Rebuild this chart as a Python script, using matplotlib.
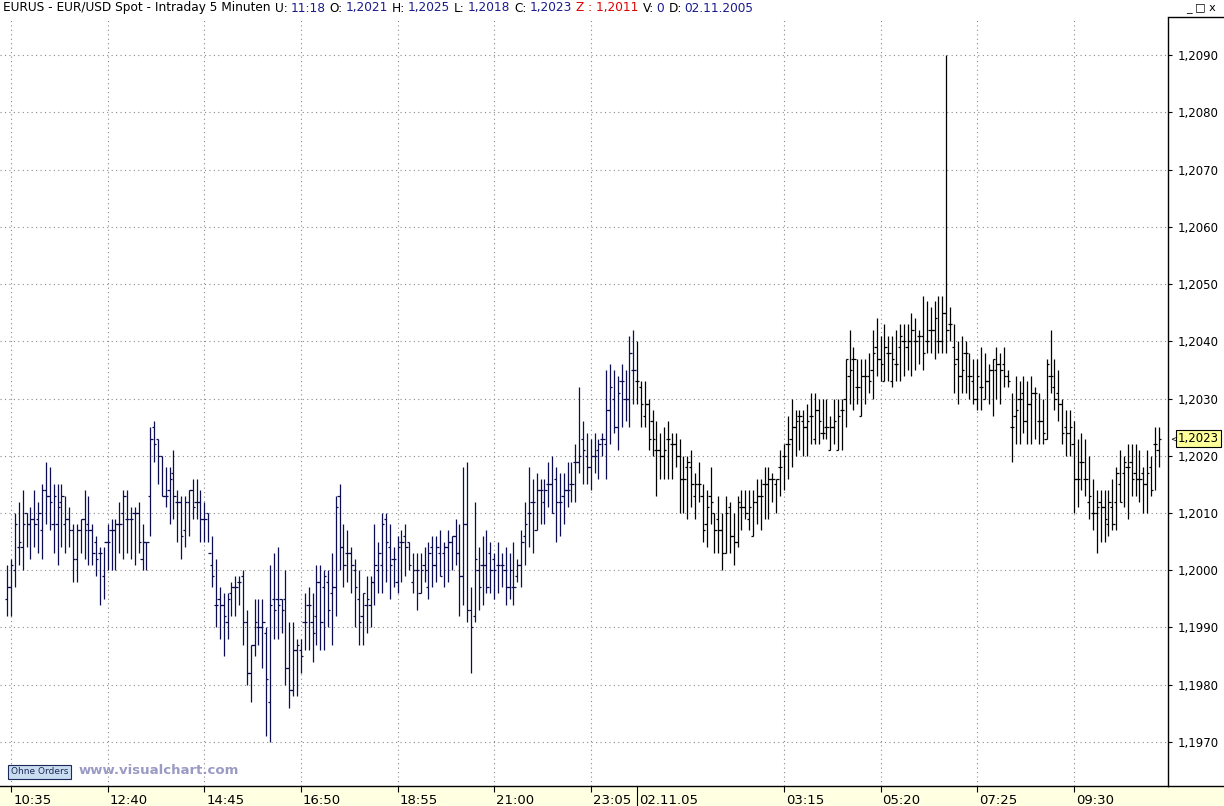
import numpy as np
import matplotlib
matplotlib.use('Agg')
import matplotlib.pyplot as plt
import matplotlib.transforms as mtransforms
from matplotlib.patches import Rectangle
from matplotlib.lines import Line2D

# EUR/USD 5-minute bars, 10:30 on 01.11.05 up to 11:20 on 02.11.05
opens = [
    1.1995, 1.1997, 1.2000, 1.2004, 1.2004, 1.2010, 1.2008, 1.2009, 1.2009, 1.2007,
    1.2014, 1.2013, 1.2008, 1.2008, 1.2012, 1.2008, 1.2009, 1.2007, 1.2002, 1.2007,
    1.2009, 1.2008, 1.2007, 1.2005, 1.2003, 1.1999, 1.2005, 1.2007, 1.2007, 1.2008,
    1.2010, 1.2009, 1.2009, 1.2010, 1.2010, 1.2002, 1.2005, 1.2013, 1.2025, 1.2023,
    1.2020, 1.2013, 1.2014, 1.2017, 1.2012, 1.2012, 1.2007, 1.2012, 1.2014, 1.2012,
    1.2012, 1.2009, 1.2010, 1.2001, 1.1994, 1.1995, 1.1994, 1.1991, 1.1996, 1.1997,
    1.1998, 1.1999, 1.1991, 1.1982, 1.1987, 1.1990, 1.1990, 1.1989, 1.1977, 1.1995,
    1.1995, 1.1995, 1.1995, 1.1983, 1.1979, 1.1986, 1.1986, 1.1991, 1.1994, 1.1991,
    1.1992, 1.1998, 1.1997, 1.1998, 1.1996, 1.1997, 1.2013, 1.2004, 1.2003, 1.2003,
    1.2000, 1.1995, 1.1992, 1.1994, 1.1994, 1.1998, 1.2000, 1.2001, 1.2009, 1.2004,
    1.2002, 1.1998, 1.2005, 1.2006, 1.2005, 1.1998, 1.2000, 1.1996, 1.2001, 1.1997,
    1.2004, 1.2001, 1.2003, 1.2003, 1.2004, 1.2005, 1.2006, 1.2003, 1.1999, 1.2008,
    1.1993, 1.1992, 1.2000, 1.2001, 1.2001, 1.2003, 1.2002, 1.2001, 1.2001, 1.2000,
    1.1997, 1.1997, 1.1999, 1.2001, 1.2006, 1.2010, 1.2012, 1.2007, 1.2014, 1.2012,
    1.2015, 1.2015, 1.2016, 1.2012, 1.2013, 1.2014, 1.2015, 1.2019, 1.2019, 1.2023,
    1.2020, 1.2018, 1.2020, 1.2021, 1.2023, 1.2022, 1.2028, 1.2030, 1.2025, 1.2033,
    1.2030, 1.2030, 1.2035, 1.2033, 1.2032, 1.2027, 1.2029, 1.2026, 1.2021, 1.2021,
    1.2020, 1.2023, 1.2022, 1.2022, 1.2020, 1.2016, 1.2018, 1.2018, 1.2013, 1.2015,
    1.2013, 1.2008, 1.2013, 1.2010, 1.2009, 1.2007, 1.2003, 1.2011, 1.2006, 1.2005,
    1.2011, 1.2011, 1.2009, 1.2006, 1.2012, 1.2013, 1.2015, 1.2015, 1.2016, 1.2015,
    1.2018, 1.2020, 1.2022, 1.2023, 1.2025, 1.2027, 1.2026, 1.2025, 1.2027, 1.2023,
    1.2028, 1.2024, 1.2025, 1.2021, 1.2025, 1.2021, 1.2028, 1.2030, 1.2034, 1.2037,
    1.2032, 1.2027, 1.2034, 1.2034, 1.2035, 1.2039, 1.2037, 1.2033, 1.2038, 1.2033,
    1.2036, 1.2039, 1.2040, 1.2039, 1.2040, 1.2040, 1.2041, 1.2041, 1.2040, 1.2042,
    1.2042, 1.2040, 1.2040, 1.2045, 1.2043, 1.2039, 1.2037, 1.2034, 1.2038, 1.2034,
    1.2033, 1.2030, 1.2032, 1.2030, 1.2033, 1.2035, 1.2035, 1.2036, 1.2036, 1.2034,
    1.2025, 1.2027, 1.2030, 1.2031, 1.2026, 1.2029, 1.2031, 1.2026, 1.2026, 1.2023,
    1.2034, 1.2032, 1.2031, 1.2029, 1.2025, 1.2024, 1.2022, 1.2016, 1.2019, 1.2016,
    1.2012, 1.2010, 1.2010, 1.2012, 1.2011, 1.2008, 1.2011, 1.2012, 1.2015, 1.2017,
    1.2018, 1.2019, 1.2017, 1.2016, 1.2017, 1.2015, 1.2018, 1.2022, 1.2021,
]
highs = [
    1.2001, 1.2002, 1.2010, 1.2012, 1.2014, 1.2010, 1.2011, 1.2014, 1.2012, 1.2015,
    1.2019, 1.2018, 1.2015, 1.2015, 1.2015, 1.2013, 1.2011, 1.2008, 1.2008, 1.2009,
    1.2014, 1.2013, 1.2008, 1.2006, 1.2004, 1.2004, 1.2008, 1.2009, 1.2009, 1.2012,
    1.2014, 1.2014, 1.2011, 1.2011, 1.2012, 1.2008, 1.2005, 1.2025, 1.2026, 1.2023,
    1.2020, 1.2018, 1.2018, 1.2021, 1.2014, 1.2013, 1.2013, 1.2014, 1.2016, 1.2016,
    1.2014, 1.2012, 1.2010, 1.2006, 1.2002, 1.1997, 1.1996, 1.1996, 1.1998, 1.1999,
    1.1999, 1.2000, 1.1993, 1.1987, 1.1995, 1.1995, 1.1995, 1.1990, 1.2001, 1.2003,
    1.2004, 1.1995, 1.2000, 1.1991, 1.1991, 1.1988, 1.1988, 1.1996, 1.1997, 1.1996,
    1.2001, 1.2001, 1.2000, 1.2000, 1.2003, 1.2013, 1.2015, 1.2008, 1.2007, 1.2004,
    1.2002, 1.2000, 1.1996, 1.1999, 1.1999, 1.2008, 1.2005, 1.2010, 1.2010, 1.2008,
    1.2004, 1.2006, 1.2007, 1.2008, 1.2005, 1.2003, 1.2003, 1.2003, 1.2004, 1.2005,
    1.2006, 1.2006, 1.2007, 1.2005, 1.2007, 1.2006, 1.2009, 1.2008, 1.2018, 1.2019,
    1.1997, 1.2012, 1.2004, 1.2006, 1.2007, 1.2005, 1.2003, 1.2005, 1.2003, 1.2004,
    1.2003, 1.2005, 1.2002, 1.2007, 1.2012, 1.2018, 1.2016, 1.2017, 1.2016, 1.2016,
    1.2019, 1.2020, 1.2018, 1.2017, 1.2017, 1.2019, 1.2019, 1.2022, 1.2032, 1.2026,
    1.2024, 1.2023, 1.2024, 1.2023, 1.2024, 1.2035, 1.2036, 1.2035, 1.2034, 1.2036,
    1.2035, 1.2041, 1.2042, 1.2040, 1.2033, 1.2033, 1.2030, 1.2028, 1.2026, 1.2024,
    1.2025, 1.2026, 1.2024, 1.2024, 1.2023, 1.2020, 1.2020, 1.2021, 1.2017, 1.2019,
    1.2015, 1.2014, 1.2018, 1.2010, 1.2013, 1.2010, 1.2013, 1.2012, 1.2010, 1.2013,
    1.2014, 1.2014, 1.2014, 1.2014, 1.2016, 1.2016, 1.2018, 1.2018, 1.2017, 1.2016,
    1.2021, 1.2022, 1.2027, 1.2030, 1.2028, 1.2028, 1.2028, 1.2029, 1.2031, 1.2031,
    1.2030, 1.2030, 1.2030, 1.2027, 1.2030, 1.2030, 1.2030, 1.2037, 1.2042, 1.2039,
    1.2037, 1.2037, 1.2037, 1.2038, 1.2042, 1.2044, 1.2041, 1.2043, 1.2041, 1.2041,
    1.2042, 1.2043, 1.2043, 1.2043, 1.2045, 1.2044, 1.2042, 1.2048, 1.2047, 1.2046,
    1.2047, 1.2048, 1.2048, 1.2090, 1.2046, 1.2043, 1.2040, 1.2041, 1.2040, 1.2038,
    1.2037, 1.2037, 1.2039, 1.2038, 1.2036, 1.2037, 1.2039, 1.2038, 1.2039, 1.2035,
    1.2031, 1.2034, 1.2033, 1.2034, 1.2033, 1.2034, 1.2032, 1.2031, 1.2030, 1.2037,
    1.2042, 1.2037, 1.2035, 1.2030, 1.2028, 1.2028, 1.2026, 1.2023, 1.2024, 1.2023,
    1.2020, 1.2016, 1.2014, 1.2014, 1.2014, 1.2014, 1.2016, 1.2018, 1.2021, 1.2020,
    1.2022, 1.2022, 1.2022, 1.2021, 1.2018, 1.2021, 1.2020, 1.2025, 1.2025,
]
lows = [
    1.1992, 1.1992, 1.1997, 1.2001, 1.2000, 1.2004, 1.2002, 1.2004, 1.2003, 1.2002,
    1.2008, 1.2007, 1.2003, 1.2001, 1.2004, 1.2003, 1.2004, 1.1998, 1.1998, 1.2003,
    1.2002, 1.2001, 1.2001, 1.1999, 1.1994, 1.1995, 1.2000, 1.2000, 1.2000, 1.2003,
    1.2002, 1.2003, 1.2002, 1.2001, 1.2003, 1.2000, 1.2000, 1.2006, 1.2019, 1.2015,
    1.2013, 1.2011, 1.2008, 1.2009, 1.2005, 1.2002, 1.2004, 1.2006, 1.2009, 1.2009,
    1.2005, 1.2005, 1.2005, 1.1997, 1.1990, 1.1988, 1.1985, 1.1988, 1.1992, 1.1992,
    1.1994, 1.1987, 1.1980, 1.1977, 1.1985, 1.1987, 1.1983, 1.1971, 1.1970, 1.1988,
    1.1988, 1.1989, 1.1980, 1.1976, 1.1978, 1.1978, 1.1982, 1.1986, 1.1986, 1.1984,
    1.1987, 1.1986, 1.1986, 1.1990, 1.1987, 1.1992, 1.2000, 1.1997, 1.1998, 1.1996,
    1.1990, 1.1987, 1.1987, 1.1989, 1.1990, 1.1994, 1.1996, 1.1996, 1.1998, 1.1995,
    1.1997, 1.1996, 1.1998, 1.1999, 1.2000, 1.1996, 1.1993, 1.1996, 1.1998, 1.1995,
    1.1997, 1.1998, 1.1999, 1.1997, 1.1998, 1.2000, 1.2001, 1.1992, 1.1994, 1.1991,
    1.1982, 1.1991, 1.1993, 1.1994, 1.1996, 1.1996, 1.1995, 1.1996, 1.1997, 1.1994,
    1.1995, 1.1994, 1.1998, 1.1997, 1.2001, 1.2004, 1.2003, 1.2007, 1.2008, 1.2008,
    1.2011, 1.2010, 1.2005, 1.2006, 1.2008, 1.2011, 1.2012, 1.2012, 1.2017, 1.2015,
    1.2015, 1.2014, 1.2017, 1.2016, 1.2020, 1.2016, 1.2022, 1.2024, 1.2021, 1.2025,
    1.2026, 1.2025, 1.2029, 1.2029, 1.2025, 1.2025, 1.2021, 1.2020, 1.2013, 1.2016,
    1.2016, 1.2016, 1.2016, 1.2018, 1.2010, 1.2010, 1.2009, 1.2011, 1.2009, 1.2012,
    1.2005, 1.2004, 1.2008, 1.2003, 1.2003, 1.2000, 1.2003, 1.2003, 1.2001, 1.2004,
    1.2007, 1.2009, 1.2007, 1.2006, 1.2008, 1.2007, 1.2009, 1.2009, 1.2012, 1.2010,
    1.2013, 1.2014, 1.2016, 1.2018, 1.2020, 1.2021, 1.2020, 1.2020, 1.2022, 1.2022,
    1.2022, 1.2023, 1.2023, 1.2021, 1.2022, 1.2021, 1.2021, 1.2025, 1.2029, 1.2028,
    1.2029, 1.2027, 1.2029, 1.2031, 1.2030, 1.2034, 1.2033, 1.2033, 1.2033, 1.2032,
    1.2033, 1.2033, 1.2034, 1.2035, 1.2034, 1.2035, 1.2036, 1.2035, 1.2038, 1.2038,
    1.2037, 1.2038, 1.2038, 1.2038, 1.2040, 1.2031, 1.2029, 1.2031, 1.2031, 1.2030,
    1.2029, 1.2028, 1.2028, 1.2030, 1.2029, 1.2027, 1.2030, 1.2029, 1.2032, 1.2032,
    1.2019, 1.2022, 1.2022, 1.2024, 1.2022, 1.2022, 1.2023, 1.2022, 1.2022, 1.2023,
    1.2031, 1.2028, 1.2026, 1.2022, 1.2020, 1.2020, 1.2010, 1.2011, 1.2014, 1.2013,
    1.2009, 1.2007, 1.2003, 1.2005, 1.2005, 1.2006, 1.2007, 1.2007, 1.2012, 1.2011,
    1.2009, 1.2013, 1.2013, 1.2012, 1.2010, 1.2010, 1.2013, 1.2014, 1.2018,
]
closes = [
    1.1997, 1.2001, 1.2008, 1.2005, 1.2008, 1.2008, 1.2009, 1.2008, 1.2010, 1.2014,
    1.2013, 1.2012, 1.2013, 1.2011, 1.2013, 1.2009, 1.2007, 1.2002, 1.2007, 1.2009,
    1.2007, 1.2007, 1.2003, 1.2002, 1.2003, 1.2005, 1.2005, 1.2007, 1.2008, 1.2008,
    1.2013, 1.2009, 1.2009, 1.2010, 1.2005, 1.2005, 1.2005, 1.2023, 1.2022, 1.2020,
    1.2013, 1.2013, 1.2016, 1.2013, 1.2012, 1.2006, 1.2012, 1.2014, 1.2011, 1.2012,
    1.2009, 1.2009, 1.2003, 1.1999, 1.1994, 1.1994, 1.1992, 1.1995, 1.1997, 1.1997,
    1.1998, 1.1991, 1.1982, 1.1987, 1.1991, 1.1990, 1.1991, 1.1981, 1.1994, 1.1993,
    1.1994, 1.1993, 1.1983, 1.1979, 1.1986, 1.1987, 1.1985, 1.1991, 1.1994, 1.1989,
    1.1998, 1.1991, 1.1999, 1.1993, 1.1997, 1.2011, 1.2004, 1.2001, 1.2003, 1.2001,
    1.1997, 1.1991, 1.1996, 1.1995, 1.1998, 1.2001, 1.2003, 1.2008, 1.2005, 1.2001,
    1.2002, 1.2004, 1.2005, 1.2004, 1.2001, 1.2000, 1.2000, 1.2000, 1.2000, 1.2003,
    1.2001, 1.2004, 1.1999, 1.2004, 1.2005, 1.2006, 1.2003, 1.1999, 1.2008, 1.1993,
    1.1990, 1.2002, 1.1997, 1.2001, 1.1997, 1.2000, 1.2000, 1.2001, 1.2001, 1.1997,
    1.2000, 1.1997, 1.2001, 1.2005, 1.2008, 1.2010, 1.2012, 1.2014, 1.2014, 1.2014,
    1.2015, 1.2010, 1.2012, 1.2012, 1.2014, 1.2014, 1.2015, 1.2019, 1.2020, 1.2021,
    1.2018, 1.2020, 1.2020, 1.2022, 1.2023, 1.2028, 1.2032, 1.2025, 1.2031, 1.2033,
    1.2030, 1.2038, 1.2035, 1.2033, 1.2029, 1.2029, 1.2023, 1.2023, 1.2021, 1.2020,
    1.2021, 1.2023, 1.2022, 1.2020, 1.2016, 1.2016, 1.2019, 1.2015, 1.2015, 1.2015,
    1.2007, 1.2011, 1.2012, 1.2007, 1.2007, 1.2003, 1.2010, 1.2006, 1.2005, 1.2012,
    1.2011, 1.2010, 1.2011, 1.2012, 1.2013, 1.2013, 1.2015, 1.2016, 1.2016, 1.2016,
    1.2018, 1.2020, 1.2022, 1.2025, 1.2026, 1.2027, 1.2025, 1.2026, 1.2027, 1.2028,
    1.2026, 1.2024, 1.2025, 1.2025, 1.2026, 1.2027, 1.2028, 1.2037, 1.2035, 1.2037,
    1.2032, 1.2034, 1.2034, 1.2033, 1.2038, 1.2037, 1.2036, 1.2039, 1.2038, 1.2037,
    1.2036, 1.2041, 1.2040, 1.2040, 1.2042, 1.2040, 1.2041, 1.2038, 1.2040, 1.2042,
    1.2044, 1.2040, 1.2045, 1.2042, 1.2043, 1.2036, 1.2034, 1.2035, 1.2038, 1.2034,
    1.2030, 1.2034, 1.2032, 1.2033, 1.2035, 1.2037, 1.2036, 1.2035, 1.2034, 1.2033,
    1.2025, 1.2028, 1.2030, 1.2026, 1.2029, 1.2031, 1.2031, 1.2026, 1.2024, 1.2036,
    1.2034, 1.2030, 1.2029, 1.2024, 1.2024, 1.2025, 1.2016, 1.2016, 1.2019, 1.2016,
    1.2013, 1.2010, 1.2011, 1.2011, 1.2009, 1.2012, 1.2008, 1.2017, 1.2012, 1.2019,
    1.2018, 1.2016, 1.2016, 1.2016, 1.2015, 1.2017, 1.2014, 1.2022, 1.2023,
]

tick_pos = [1, 26, 51, 76, 101, 126, 151, 201, 226, 251, 276]
tick_labels = ['10:35', '12:40', '14:45', '16:50', '18:55', '21:00', '23:05',
               '03:15', '05:20', '07:25', '09:30']
date_pos = 163          # first bar of 02.11.05, drawn in black
date_label = '02.11.05'
price_levels = [1.1970, 1.1980, 1.1990, 1.2000, 1.2010, 1.2020, 1.2030,
                1.2040, 1.2050, 1.2060, 1.2070, 1.2080, 1.2090]
last_price = 1.2023

W, H = 1224, 806
fig = plt.figure(figsize=(W / 100, H / 100), dpi=100)
fig.patch.set_facecolor('white')
ax = fig.add_axes([0, 20 / H, 1168 / W, 768 / H])

x = np.arange(len(highs))
cols = ['#0d0d52' if i < date_pos else '#000000' for i in x]
lw = 0.9
ax.vlines(x, lows, highs, colors=cols, lw=lw, zorder=3)
ax.hlines(opens, x - 0.6, x, colors=cols, lw=lw, zorder=3)
ax.hlines(closes, x, x + 0.6, colors=cols, lw=lw, zorder=3)

ax.set_xlim(-1.89, 300.4)
ax.set_ylim(1.19623, 1.20965)

# grid
ax.set_yticks(price_levels)
ax.set_yticklabels([f'{v:.4f}'.replace('.', ',') for v in price_levels])
ax.set_xticks(tick_pos)
ax.set_xticklabels(tick_labels)
ax.grid(True, color='#8a8a8a', ls=(0, (1, 3)), lw=0.8, zorder=0)

ax.yaxis.tick_right()
ax.tick_params(axis='y', length=3, pad=4, labelsize=8.5, colors='black')
ax.tick_params(axis='x', length=4, pad=2, labelsize=9.5, colors='black')
offset = mtransforms.ScaledTranslation(2 / 100, 0, fig.dpi_scale_trans)
for lbl in ax.get_xticklabels():
    lbl.set_horizontalalignment('left')
    lbl.set_transform(lbl.get_transform() + offset)

for s in ['left', 'top']:
    ax.spines[s].set_visible(False)
ax.spines['right'].set_linewidth(1.0)
ax.spines['bottom'].set_linewidth(1.0)

# day separator on the time axis
trans = mtransforms.blended_transform_factory(ax.transData, ax.transAxes)
ax.plot([date_pos, date_pos], [0, -20 / 768], transform=trans, color='black',
        lw=0.8, clip_on=False)
ax.annotate(date_label, xy=(date_pos, 0), xycoords=trans, xytext=(1.5, -5.8),
            textcoords='offset points', ha='left', va='top', fontsize=9.5)

# last price marker
ax.annotate('1,2023', xy=(1, last_price), xycoords=('axes fraction', 'data'),
            xytext=(10, 0), textcoords='offset pixels', ha='left', va='center',
            fontsize=8.5, annotation_clip=False,
            bbox=dict(boxstyle='square,pad=0.15', fc='#ffff99', ec='black', lw=0.8))
ax.annotate('<', xy=(1, last_price), xycoords=('axes fraction', 'data'),
            xytext=(2, 0), textcoords='offset pixels', ha='left', va='center',
            fontsize=6, annotation_clip=False)

# bottom strip and panel borders
fig.add_artist(Rectangle((0, 0), 1, 20 / H, transform=fig.transFigure,
                         facecolor='#ffffe1', edgecolor='none', zorder=-1))
fig.add_artist(Line2D([1168 / W, 1], [20 / H, 20 / H], color='black', lw=1.0))
fig.add_artist(Line2D([1168 / W, 1], [(H - 17) / H, (H - 17) / H], color='black', lw=1.0))

# header line, scaled so that it runs from x=3 to about x=753
renderer = fig.canvas.get_renderer()
blue = '#1a1a8c'
red = '#e00000'
header = [
    ('EURUS - EUR/USD Spot - Intraday 5 Minuten', 'black', 4),
    ('U:', 'black', 3), ('11:18', blue, 4),
    ('O:', 'black', 3), ('1,2021', blue, 4),
    ('H:', 'black', 3), ('1,2025', blue, 4),
    ('L:', 'black', 3), ('1,2018', blue, 4),
    ('C:', 'black', 3), ('1,2023', blue, 4),
    ('Z : 1,2011', red, 4),
    ('V:', 'black', 3), ('0', blue, 4),
    ('D:', 'black', 3), ('02.11.2005', blue, 0),
]
natural = 0
for txt, c, gap in header:
    probe = fig.text(0, 0, txt, fontsize=10)
    natural += probe.get_window_extent(renderer).width
    probe.remove()
gaps = sum(g for _, _, g in header)
fs = 10 * (750 - gaps) / natural
xpos = 3
hy = (H - 8) / H
for txt, c, gap in header:
    t = fig.text(xpos / W, hy, txt, fontsize=fs, color=c, va='center', ha='left')
    xpos = t.get_window_extent(renderer).x1 + gap

fig.text(1186 / W, hy, '_ □ x', fontsize=8, color='black', va='center', ha='left')

# watermark
fig.text(11 / W, (H - 772) / H, 'Ohne Orders', fontsize=6.5, color='#1a2a5a',
         va='center', ha='left',
         bbox=dict(boxstyle='square,pad=0.3', fc='#c9dcf0', ec='#1a2a5a', lw=0.8))
fig.text(79 / W, (H - 770) / H, 'www.visualchart.com', fontsize=9.5,
         fontweight='bold', color='#9a9ac4', va='center', ha='left')

fig.savefig('out.png', dpi=100)
